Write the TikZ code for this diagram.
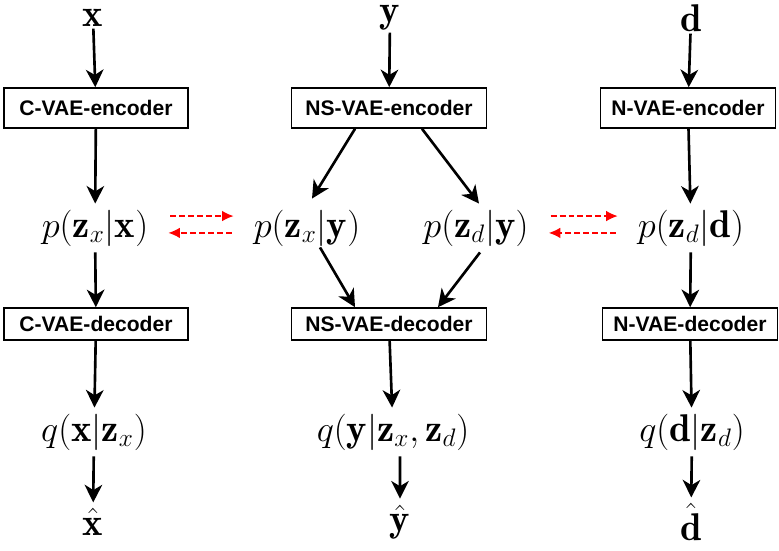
\documentclass[tikz,border=0pt]{standalone}
\usepackage{amsmath}
\usepackage{amssymb}
\usepackage{fontspec}
\setsansfont{Liberation Sans}
\usetikzlibrary{arrows.meta}

\begin{document}
\begin{tikzpicture}[
            x=0.02cm, y=-0.02cm,
            block/.style={
                draw,
                line width=0.9pt,
                minimum width=3.68cm,
                minimum height=0.8cm,
                font=\sffamily\bfseries\fontsize{12}{14}\selectfont
            },
            dist/.style={
                font=\fontsize{22}{26}\selectfont
            },
            arr/.style={
                line width=1.5pt,
                -{Stealth[length=10pt, width=10pt, inset=3pt]}
            },
            swap/.style={
                red,
                line width=0.75pt,
                dash pattern=on 3.4pt off 1.7pt,
                -{Latex[length=6.5pt, width=6pt]},
                shorten <=9pt,
                shorten >=8pt
            }
        ]
        \useasboundingbox (0,0) rectangle (779,551);
        % inputs
        \node[dist, inner sep=1pt] (x) at (93,18) {$\mathbf{x}$};
        \node[dist, inner sep=1pt] (y) at (390,18) {$\mathbf{y}$};
        \node[dist, inner sep=1pt] (d) at (691,18) {$\mathbf{d}$};
        % encoders
        \node[block] (cenc) at (96,108) {C-VAE-encoder};
        \node[block, minimum width=3.9cm] (nsenc) at (389,108) {NS-VAE-encoder};
        \node[block, minimum width=3.5cm] (nenc) at (688,108) {N-VAE-encoder};
        % posteriors
        \node[dist] (pzxx) at (95,228) {$p(\mathbf{z}_x|\mathbf{x})$};
        \node[dist] (pzxy) at (307,228) {$p(\mathbf{z}_x|\mathbf{y})$};
        \node[dist] (pzdy) at (476,228) {$p(\mathbf{z}_d|\mathbf{y})$};
        \node[dist] (pzdd) at (691,228) {$p(\mathbf{z}_d|\mathbf{d})$};
        % decoders
        \node[block, minimum height=0.64cm] (cdec) at (96,324) {C-VAE-decoder};
        \node[block, minimum width=3.9cm, minimum height=0.64cm] (nsdec) at (389,324) {NS-VAE-decoder};
        \node[block, minimum width=3.5cm, minimum height=0.64cm] (ndec) at (690,324) {N-VAE-decoder};
        % likelihoods
        \node[dist] (qx) at (94,432) {$q(\mathbf{x}|\mathbf{z}_x)$};
        \node[dist] (qy) at (393,432) {$q(\mathbf{y}|\mathbf{z}_x,\mathbf{z}_d)$};
        \node[dist] (qd) at (692,432) {$q(\mathbf{d}|\mathbf{z}_d)$};
        % outputs
        \node[dist] (xh) at (93,522) {$\hat{\mathbf{x}}$};
        \node[dist] (yh) at (400,522) {$\hat{\mathbf{y}}$};
        \node[dist] (dh) at (691,522) {$\hat{\mathbf{d}}$};

        \draw[arr] (x) -- (cenc);
        \draw[arr] (y) -- (nsenc);
        \draw[arr] (d) -- (nenc);
        \draw[arr] (cenc) -- (pzxx);
        \draw[arr] ([xshift=-0.68cm]nsenc.south) -- ([xshift=0.1cm, yshift=0.1cm]pzxy.north);
        \draw[arr] ([xshift=0.66cm]nsenc.south) -- ([xshift=0.06cm]pzdy.north);
        \draw[arr] (nenc) -- (pzdd);
        \draw[arr] (pzxx) -- (cdec);
        \draw[arr] ([xshift=0.26cm, yshift=0.1cm]pzxy.south) -- ([xshift=-0.68cm]nsdec.north);
        \draw[arr] ([xshift=0.08cm]pzdy.south) -- ([xshift=0.98cm]nsdec.north);
        \draw[arr] (pzdd) -- (ndec);
        \draw[arr] (cdec) -- (qx);
        \draw[arr] (nsdec) -- (qy);
        \draw[arr] (ndec) -- (qd);
        \draw[arr] (qx) -- (xh);
        \draw[arr] ([xshift=0.14cm]qy.south) -- (yh);
        \draw[arr] (qd) -- (dh);
        % exchange between branches
        \draw[swap] ([yshift=6.8pt]pzxx.east) -- ([yshift=6.8pt]pzxy.west);
        \draw[swap] ([yshift=-2.8pt]pzxy.west) -- ([yshift=-2.8pt]pzxx.east);
        \draw[swap] ([yshift=6.8pt]pzdy.east) -- ([yshift=6.8pt]pzdd.west);
        \draw[swap] ([yshift=-2.8pt]pzdd.west) -- ([yshift=-2.8pt]pzdy.east);
        \end{tikzpicture}
\end{document}
